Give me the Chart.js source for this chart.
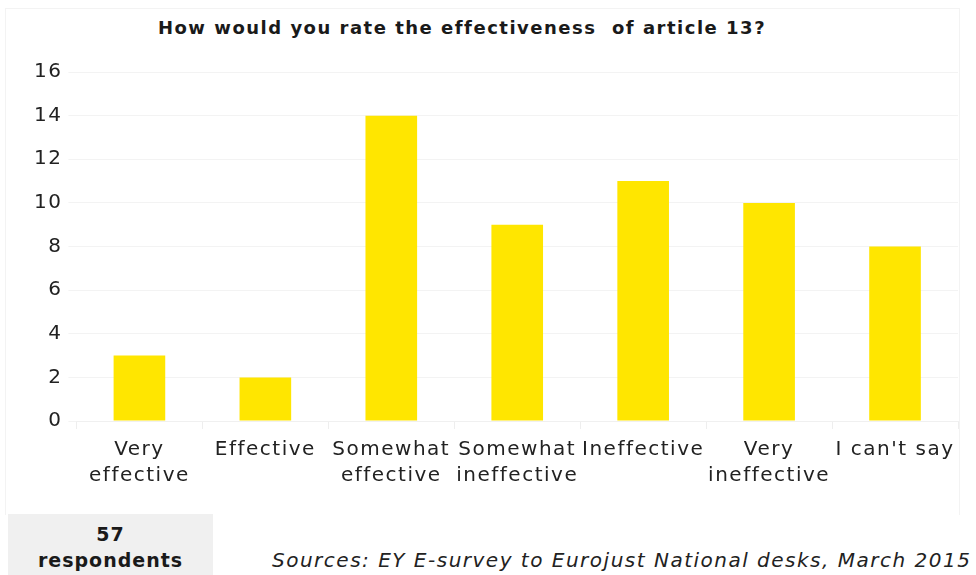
<!DOCTYPE html>
<html>
<head>
<meta charset="utf-8">
<script src="https://cdn.jsdelivr.net/npm/chart.js@4/dist/chart.umd.min.js"></script>
<style>
  body { margin: 0; background: #fff; font-family: "DejaVu Sans", sans-serif; }
  #wrap { position: absolute; left: 0; top: 0; width: 976px; height: 497px; }
  #box { position: absolute; left: 5px; top: 8px; width: 953px; height: 506px; border: 1px solid #f3f3f3; border-bottom: none; }
  #title { position: absolute; left: 0; top: 17px; width: 924px; text-align: center; font-weight: bold; font-size: 18px;
           letter-spacing: 1.5px; color: #1a1a1a; white-space: nowrap; line-height: 22px; }
  #resp { position: absolute; left: 8px; top: 514px; width: 205px; height: 61px; background: #f0f0f0;
          text-align: center; font-weight: bold; font-size: 19px; letter-spacing: 1px; line-height: 26px;
          color: #1a1a1a; padding-top: 7px; box-sizing: border-box; }
  #src { position: absolute; left: 272px; top: 548px; font-style: italic; font-size: 20px; letter-spacing: 1.5px;
         color: #222; white-space: nowrap; }
</style>
</head>
<body>
<div id="box"></div>
<div id="title">How would you rate the effectiveness&nbsp; of article 13?</div>
<div id="wrap"><canvas id="rating"></canvas></div>
<div id="resp">57<br>respondents</div>
<div id="src">Sources: EY E-survey to Eurojust National desks, March 2015</div>
<script>
const categories = [
    ['Very', 'effective'],
    'Effective',
    ['Somewhat', 'effective'],
    ['Somewhat', 'ineffective'],
    'Ineffective',
    ['Very', 'ineffective'],
    "I can't say"
]
const answers = [3, 2, 14, 9, 11, 10, 8]
const yTicks = [0, 2, 4, 6, 8, 10, 12, 14, 16]

// the original font is wider than DejaVu, so spread the letters a little
const wideText = {
    id: 'wideText',
    beforeLayout(chart) { chart.ctx.letterSpacing = '1.5px' },
    beforeDraw(chart) { chart.ctx.letterSpacing = '1.5px' }
}

document.addEventListener("DOMContentLoaded", () => {
    const ctx = document.getElementById("rating").getContext("2d")
    new Chart(ctx, {
        type: 'bar',
        data: {
            labels: categories,
            datasets: [{
                data: answers,
                backgroundColor: '#ffe600',
                barPercentage: 0.41,
                categoryPercentage: 1
            }]
        },
        options: {
            responsive: true,
            maintainAspectRatio: false,
            animation: false,
            layout: { padding: { left: 28, right: 18, top: 72, bottom: 0 } },
            plugins: {
                legend: { display: false },
                tooltip: { enabled: false }
            },
            scales: {
                x: {
                    grid: { drawOnChartArea: false, color: '#eeeeee', tickLength: 8, offset: true },
                    border: { color: '#f0f0f0' },
                    ticks: {
                        color: '#222',
                        font: { family: 'DejaVu Sans', size: 20, lineHeight: 1.3 },
                        maxRotation: 0,
                        autoSkip: false,
                        padding: 8
                    }
                },
                y: {
                    min: 0,
                    max: 16,
                    afterBuildTicks: axis => { axis.ticks = yTicks.map(v => ({ value: v })) },
                    grid: { color: '#f3f3f3', tickLength: 8 },
                    border: { display: false },
                    ticks: {
                        color: '#222',
                        font: { family: 'DejaVu Sans', size: 20 },
                        padding: 6
                    }
                }
            }
        },
        plugins: [wideText]
    })
})
</script>
</body>
</html>
